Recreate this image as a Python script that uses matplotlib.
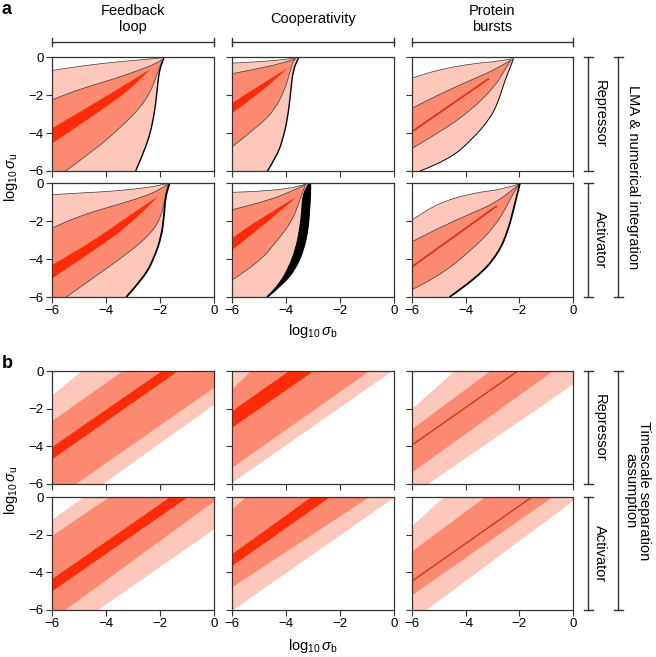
import matplotlib
matplotlib.use("Agg")
import matplotlib.pyplot as plt
from matplotlib.lines import Line2D
from matplotlib.path import Path
from matplotlib.patches import PathPatch

plt.rcParams['font.family'] = ['Liberation Sans', 'DejaVu Sans']
plt.rcParams['mathtext.fontset'] = 'custom'
plt.rcParams['mathtext.rm'] = 'Liberation Sans'
plt.rcParams['mathtext.it'] = 'Liberation Sans:italic'
plt.rcParams['font.size'] = 10

# ---- labels ----
col_titles = ['Feedback\nloop', 'Cooperativity', 'Protein\nbursts']
row_titles = ['Repressor', 'Activator']
ticks = [-6, -4, -2, 0]

# ---- panel a: curve outlines, [row][col] lists of (x, y) ----
a_light_up = [
    [[(-6, -0.71), (-5.0, -0.49), (-3.8, -0.28), (-2.6, -0.14), (-1.85, -0.03)],
     [(-6, -0.32), (-5.0, -0.25), (-4.05, -0.14), (-3.53, -0.03)],
     [(-6, -1.11), (-5.02, -0.67), (-3.78, -0.35), (-2.78, -0.23), (-2.22, -0.08)]],
    [[(-6, -0.62), (-5.04, -0.53), (-3.8, -0.44), (-2.57, -0.26), (-2.07, -0.14), (-1.64, 0)],
     [(-6, -0.49), (-5.04, -0.44), (-4.05, -0.32), (-3.43, -0.14), (-3.12, 0)],
     [(-6, -1.94), (-5.02, -1.06), (-3.78, -0.53), (-2.53, -0.32), (-1.98, -0.03)]],
]
a_light_lo = [
    [[(-1.85, -0.03), (-2.0, -0.6), (-2.07, -1.2), (-2.14, -2.26), (-2.25, -3.3), (-2.4, -4.2), (-2.6, -5.0), (-2.9, -6)],
     [(-3.53, -0.03), (-3.74, -0.67), (-3.83, -1.9), (-3.93, -3.14), (-4.12, -4.37), (-4.36, -5.26), (-4.69, -6)],
     [(-2.22, -0.08), (-2.35, -0.6), (-2.53, -1.2), (-2.72, -2.08), (-3.03, -3.14), (-3.78, -4.37), (-4.65, -5.43), (-5.7, -6)]],
    [[(-1.64, 0), (-1.8, -0.71), (-1.85, -1.76), (-1.95, -2.82), (-2.2, -3.88), (-2.57, -4.94), (-3.25, -6)],
     [(-3.1, 0), (-3.1, -0.5), (-3.14, -1.5), (-3.2, -2.5), (-3.35, -3.5), (-3.65, -4.5), (-4.1, -5.3), (-4.7, -6)],
     [(-1.98, -0.03), (-2.16, -1.06), (-2.41, -2.47), (-2.78, -3.7), (-3.53, -4.94), (-4.6, -6)]],
]
# inner edge of the black bundle (cooperativity / activator)
a_black_inner = [(-3.15, 0), (-3.38, -0.5), (-3.42, -1.5), (-3.5, -2.5), (-3.65, -3.5), (-3.92, -4.5), (-4.25, -5.3), (-4.7, -6)]

a_mid_up = [
    [[(-6, -2.26), (-5.0, -1.7), (-3.8, -1.2), (-2.8, -0.71), (-2.1, -0.32), (-1.9, -0.12)],
     [(-6, -0.88), (-5.0, -0.6), (-4.2, -0.35), (-3.65, -0.1)],
     [(-6, -2.7), (-5.02, -1.99), (-3.78, -1.2), (-2.78, -0.58), (-2.3, -0.15)]],
    [[(-6, -2.38), (-5.04, -1.76), (-3.8, -1.23), (-2.57, -0.71), (-1.89, -0.26), (-1.7, -0.05)],
     [(-6, -1.41), (-5.04, -1.06), (-4.05, -0.62), (-3.28, -0.09)],
     [(-6, -3.09), (-5.02, -2.38), (-3.78, -1.59), (-2.91, -1.06), (-2.17, -0.26), (-2.0, -0.06)]],
]
a_mid_lo = [
    [[(-1.9, -0.12), (-2.0, -0.49), (-2.14, -1.02), (-2.32, -1.73), (-2.69, -2.61), (-3.43, -3.67), (-4.42, -4.9), (-5.5, -6)],
     [(-3.65, -0.1), (-3.76, -0.3), (-3.86, -0.85), (-4.05, -1.73), (-4.42, -2.79), (-5.04, -3.67), (-6, -4.73)],
     [(-2.3, -0.15), (-2.54, -0.67), (-2.91, -1.55), (-3.78, -2.79), (-5.02, -4.02), (-6, -4.81)]],
    [[(-1.7, -0.05), (-1.83, -0.88), (-1.95, -1.76), (-2.32, -2.65), (-3.19, -3.7), (-4.42, -4.94), (-5.47, -6)],
     [(-3.28, -0.09), (-3.53, -1.06), (-3.75, -1.94), (-4.3, -3.0), (-5.04, -4.23), (-6, -5.11)],
     [(-2.0, -0.06), (-2.22, -0.53), (-2.47, -1.23), (-2.91, -2.29), (-3.78, -3.53), (-5.02, -4.94), (-6, -5.61)]],
]
# core band (feedback, cooperativity) or single line (protein bursts)
a_core_up = [
    [[(-6, -3.76), (-4.42, -2.43), (-3.19, -1.38), (-2.35, -0.63)],
     [(-6, -2.43), (-5.04, -1.55), (-3.95, -0.6)],
     [(-6, -3.93), (-3.16, -1.16)]],
    [[(-6, -4.32), (-4.42, -3.0), (-3.19, -1.76), (-2.07, -0.71)],
     [(-6, -2.91), (-5.04, -1.94), (-3.58, -0.71)],
     [(-6, -4.41), (-2.86, -1.23)]],
]
a_core_lo = [
    [[(-2.35, -0.63), (-3.19, -1.81), (-4.42, -3.05), (-6, -4.55)],
     [(-3.95, -0.6), (-5.04, -1.99), (-6, -2.96)],
     None],
    [[(-2.07, -0.71), (-3.19, -2.29), (-4.42, -3.53), (-6, -5.03)],
     [(-3.58, -0.71), (-5.04, -2.47), (-6, -3.53)],
     None],
]

# ---- panel b: straight band edges, value at x=-6 and at x=0 ----
b_light_hi = [[(-1.26, 5.9), (0.3, 7.5), (-1.97, 5.6)],
              [(-1.17, 5.0), (0.3, 7.5), (-1.5, 6.3)]]
b_mid_hi = [[(-2.62, 3.45), (-0.94, 7.5), (-3.05, 3.3)],
            [(-2.03, 3.8), (-0.62, 7.0), (-2.85, 3.5)]]
b_core_hi = [[(-4.0, 1.95), (-2.09, 3.95), (-3.93, 2.05)],
             [(-4.32, 1.65), (-3.0, 3.2), (-4.47, 1.53)]]
b_core_lo = [[(-4.65, 1.37), (-2.97, 3.0), None],
             [(-4.97, 1.0), (-3.62, 2.42), None]]
b_mid_lo = [[(-6.85, -0.85), (-5.1, 0.95), (-5.35, 0.8)],
            [(-6.47, -0.2), (-4.76, 0.9), (-5.18, 0.8)]]
b_light_lo = [[(-7.9, -1.75), (-5.9, 0.1), (-6.55, -0.67)],
              [(-7.66, -1.68), (-6.0, 0.0), (-6.53, -0.18)]]

LIGHT = '#fdc7bc'
MID = '#fb8a71'
CORE = '#fc2c0b'
LINE_C = '#d8361a'
EDGE = '#3a3a3a'
SPINE = '#333333'

W, H = 656, 657
fig = plt.figure(figsize=(W / 100, H / 100), dpi=100)


def fx(px):
    return px / W


def fy(py):
    return 1 - py / H


col_x = [(52, 214), (232, 394), (412, 573)]
rows_a = [(57, 171), (183, 297)]
rows_b = [(371, 484), (497, 610)]


def make_ax(c, r, rows, show_x):
    x0, x1 = col_x[c]
    y0, y1 = rows[r]
    ax = fig.add_axes([fx(x0), fy(y1), (x1 - x0) / W, (y1 - y0) / H])
    ax.set_xlim(-6, 0)
    ax.set_ylim(-6, 0)
    ax.set_xticks(ticks)
    ax.set_yticks(ticks)
    ax.tick_params(direction='out', length=4, width=0.8, color=SPINE,
                   labelsize=9.5, pad=2)
    if c != 0:
        ax.set_yticklabels([])
    if not show_x:
        ax.set_xticklabels([])
    for s in ax.spines.values():
        s.set_color(SPINE)
        s.set_linewidth(0.9)
        s.set_zorder(6)
    return ax


def curve(pts, start=True):
    # smooth quadratic path through the read points (points used as control points)
    verts, codes = [pts[0]], [Path.MOVETO if start else Path.LINETO]
    if len(pts) == 2:
        verts.append(pts[1])
        codes.append(Path.LINETO)
        return verts, codes
    mid = lambda a, b: ((a[0] + b[0]) / 2, (a[1] + b[1]) / 2)
    verts.append(mid(pts[0], pts[1]))
    codes.append(Path.LINETO)
    for i in range(1, len(pts) - 1):
        end = mid(pts[i], pts[i + 1]) if i < len(pts) - 2 else pts[-1]
        verts += [pts[i], end]
        codes += [Path.CURVE3, Path.CURVE3]
    return verts, codes


def shape(ax, parts, close_pt=None, **kw):
    verts, codes = [], []
    for i, p in enumerate(parts):
        v, cd = curve(p, start=(i == 0))
        verts += v
        codes += cd
    if close_pt is not None:
        verts.append(close_pt)
        codes.append(Path.LINETO)
    verts.append(verts[0])
    codes.append(Path.CLOSEPOLY)
    ax.add_patch(PathPatch(Path(verts, codes), **kw))


def outline(ax, pts, **kw):
    v, cd = curve(pts)
    ax.add_patch(PathPatch(Path(v, cd), fill=False, **kw))


# ---- panel a ----
for r in range(2):
    for c in range(3):
        ax = make_ax(c, r, rows_a, r == 1)
        up, lo = a_light_up[r][c], a_light_lo[r][c]
        shape(ax, [up, lo], (-6, -6), facecolor=LIGHT, lw=0, zorder=1)
        mu, ml = a_mid_up[r][c], a_mid_lo[r][c]
        shape(ax, [mu, ml], (-6, -6), facecolor=MID, lw=0, zorder=2)
        for pts in (up, mu, ml):
            outline(ax, pts, edgecolor=EDGE, lw=0.5, zorder=4)
        if r == 1 and c == 1:
            shape(ax, [lo, a_black_inner[::-1]], None, facecolor='black',
                  edgecolor='black', lw=0.6, zorder=5)
        lw_lo = 1.3 if r == 1 else (0.7 if c == 2 else 1.0)
        outline(ax, lo, edgecolor='black', lw=lw_lo, zorder=5)
        cu, cl = a_core_up[r][c], a_core_lo[r][c]
        if cl is None:
            ax.plot(*zip(*cu), color=LINE_C, lw=1.3, zorder=3)
        else:
            shape(ax, [cu, cl], None, facecolor=CORE, lw=0, zorder=3)

# ---- panel b ----
for r in range(2):
    for c in range(3):
        ax = make_ax(c, r, rows_b, r == 1)
        xs = [-6, 0]
        ax.fill_between(xs, b_light_lo[r][c], b_light_hi[r][c], color=LIGHT, lw=0, zorder=1)
        ax.fill_between(xs, b_mid_lo[r][c], b_mid_hi[r][c], color=MID, lw=0, zorder=2)
        if b_core_lo[r][c] is None:
            ax.plot(xs, b_core_hi[r][c], color=LINE_C, lw=1.0, zorder=3)
        else:
            ax.fill_between(xs, b_core_lo[r][c], b_core_hi[r][c], color=CORE, lw=0, zorder=3)


# ---- brackets and annotation text ----
def fline(xs, ys, lw=1.0):
    fig.add_artist(Line2D([fx(v) for v in xs], [fy(v) for v in ys],
                          color=SPINE, lw=lw, transform=fig.transFigure))


for c in range(3):
    x0, x1 = col_x[c]
    fline([x0, x1], [42, 42])
    fline([x0, x0], [38, 46])
    fline([x1, x1], [38, 46])
    fig.text(fx((x0 + x1) / 2), fy(19), col_titles[c], ha='center', va='center',
             fontsize=10.5, linespacing=1.2)

for rows in (rows_a, rows_b):
    for r in range(2):
        y0, y1 = rows[r]
        fline([588, 588], [y0, y1])
        fline([584, 593], [y0, y0])
        fline([584, 593], [y1, y1])
        fig.text(fx(600), fy((y0 + y1) / 2), row_titles[r], rotation=270,
                 ha='center', va='center', fontsize=10.5)
    top, bot = rows[0][0], rows[1][1]
    fline([618, 618], [top, bot])
    fline([614, 623], [top, top])
    fline([614, 623], [bot, bot])

fig.text(fx(633), fy((57 + 297) / 2), 'LMA & numerical integration', rotation=270,
         ha='center', va='center', fontsize=10.5)
fig.text(fx(637), fy((371 + 610) / 2), 'Timescale separation\nassumption', rotation=270,
         ha='center', va='center', fontsize=10.5, linespacing=1.0)

ylab = r'$\log_{10}\sigma_{\mathrm{u}}$'
xlab = r'$\log_{10}\sigma_{\mathrm{b}}$'
fig.text(fx(11), fy(177), ylab, rotation=90, ha='center', va='center', fontsize=10.5)
fig.text(fx(11), fy(490), ylab, rotation=90, ha='center', va='center', fontsize=10.5)
fig.text(fx(313), fy(331), xlab, ha='center', va='center', fontsize=10.5)
fig.text(fx(313), fy(646), xlab, ha='center', va='center', fontsize=10.5)

fig.text(fx(2), fy(9), 'a', fontsize=13, fontweight='bold', ha='left', va='center')
fig.text(fx(2), fy(364), 'b', fontsize=13, fontweight='bold', ha='left', va='center')

fig.savefig('out.png', dpi=100)
